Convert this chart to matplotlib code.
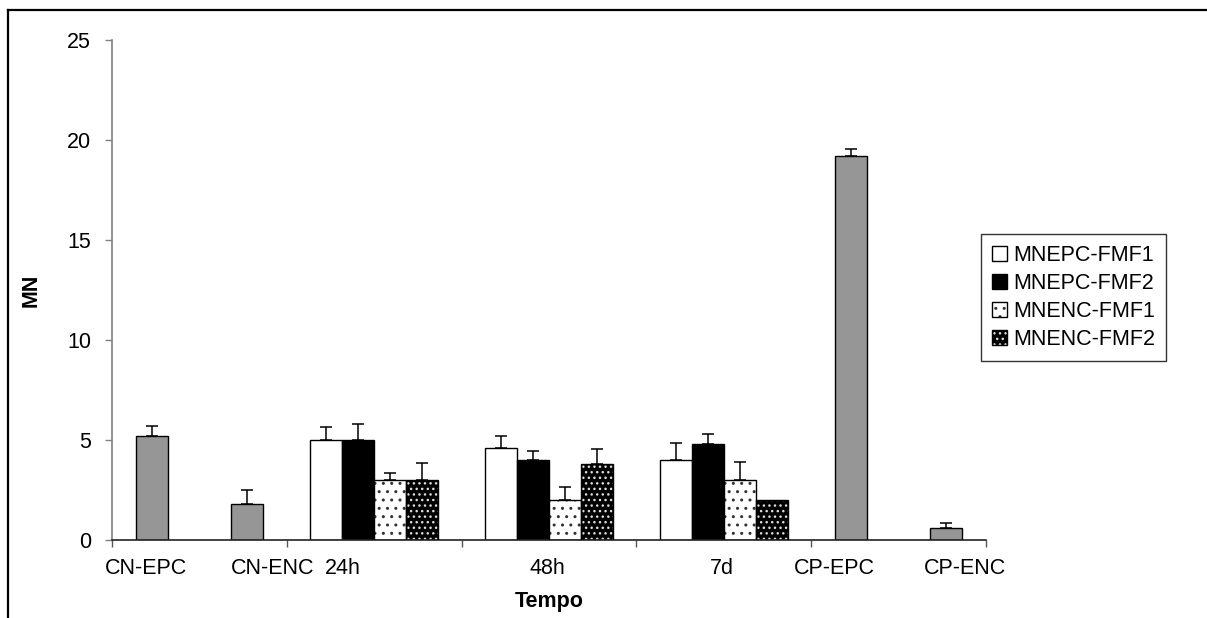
import matplotlib.pyplot as plt
from matplotlib.lines import Line2D
from matplotlib.patches import Patch
from matplotlib.legend_handler import HandlerTuple
import numpy as np

plt.rcParams['font.family'] = ['Liberation Sans', 'DejaVu Sans']
plt.rcParams['hatch.linewidth'] = 1.0

# data
control_labels = ['CN-EPC', 'CN-ENC', 'CP-EPC', 'CP-ENC']
control_values = [5.2, 1.8, 19.2, 0.6]
control_err = [0.5, 0.7, 0.35, 0.25]

times = ['24h', '48h', '7d']
series_names = ['MNEPC-FMF1', 'MNEPC-FMF2', 'MNENC-FMF1', 'MNENC-FMF2']
mnepc_fmf1 = [5.0, 4.6, 4.0]
mnepc_fmf2 = [5.0, 4.0, 4.8]
mnenc_fmf1 = [3.0, 2.0, 3.0]
mnenc_fmf2 = [3.0, 3.8, 2.0]
mnepc_fmf1_err = [0.65, 0.6, 0.85]
mnepc_fmf2_err = [0.8, 0.45, 0.5]
mnenc_fmf1_err = [0.35, 0.65, 0.9]
mnenc_fmf2_err = [0.85, 0.75, 0.0]

tick_labels = ['CN-EPC', 'CN-ENC', '24h', '48h', '7d', 'CP-EPC', 'CP-ENC']

FS = 15.5

fig = plt.figure(figsize=(12.07, 6.18), dpi=100)
ax = fig.add_axes([112/1207, 78/618, 874/1207, 500/618])

w = 32/175
lw = 1.0

def errs(x, y, e):
    x, y, e = np.asarray(x), np.asarray(y), np.asarray(e)
    m = e > 0
    ax.errorbar(x[m], y[m], yerr=[np.zeros(m.sum()), e[m]], fmt='none',
                ecolor='black', elinewidth=1.1, capsize=4, capthick=1.1, zorder=1)

# control bars (gray)
cx = [0.5 - 0.272, 0.5 + 0.272, 4.5 - 0.272, 4.5 + 0.272]
ax.bar(cx, control_values, w, color='#969696', edgecolor='black', linewidth=lw, zorder=2)
errs(cx, control_values, control_err)

# grouped bars
gx = np.arange(len(times)) + 1.5
vals = [mnepc_fmf1, mnepc_fmf2, mnenc_fmf1, mnenc_fmf2]
err = [mnepc_fmf1_err, mnepc_fmf2_err, mnenc_fmf1_err, mnenc_fmf2_err]
handles = []
for i, (v, e) in enumerate(zip(vals, err)):
    x = gx + (i - 1.5) * w
    if i == 0:
        ax.bar(x, v, w, color='white', edgecolor='black', linewidth=lw, zorder=2)
        handles.append(Patch(facecolor='white', edgecolor='black', linewidth=lw))
    elif i == 1:
        ax.bar(x, v, w, color='black', edgecolor='black', linewidth=lw, zorder=2)
        handles.append(Patch(facecolor='black', edgecolor='black', linewidth=lw))
    elif i == 2:
        ax.bar(x, v, w, color='white', edgecolor='#333333', hatch='..', linewidth=0, zorder=2)
        ax.bar(x, v, w, fill=False, edgecolor='black', linewidth=lw, zorder=3)
        handles.append((Patch(facecolor='white', edgecolor='#333333', hatch='..', linewidth=0),
                        Patch(fill=False, edgecolor='black', linewidth=lw)))
    else:
        ax.bar(x, v, w, color='black', edgecolor='#dddddd', hatch='...', linewidth=0, zorder=2)
        ax.bar(x, v, w, fill=False, edgecolor='black', linewidth=lw, zorder=3)
        handles.append((Patch(facecolor='black', edgecolor='#dddddd', hatch='...', linewidth=0),
                        Patch(fill=False, edgecolor='black', linewidth=lw)))
    errs(x, v, e)

ax.set_xlim(0, 5)
ax.set_ylim(0, 25)
ax.set_yticks([0, 5, 10, 15, 20, 25])
ax.tick_params(axis='y', length=5, width=1, color='#808080', pad=10, labelsize=FS)

label_pos = [0.194, 0.92, 1.32, 2.49, 3.49, 4.13, 4.88]
ax.set_xticks(label_pos)
ax.set_xticklabels(tick_labels)
ax.set_xticks(np.arange(0, 6), minor=True)
ax.tick_params(axis='x', which='major', length=0, pad=13, labelsize=FS)
ax.tick_params(axis='x', which='minor', length=5, width=1, color='#555555')

for s in ['top', 'right']:
    ax.spines[s].set_visible(False)
ax.spines['left'].set_color('#808080')
ax.spines['left'].set_linewidth(1.2)
ax.spines['bottom'].set_color('#222222')
ax.spines['bottom'].set_linewidth(1.2)

ax.set_xlabel('Tempo', fontsize=FS, fontweight='bold')
ax.xaxis.set_label_coords(0.5, -0.101)
ax.set_ylabel('MN', fontsize=FS, fontweight='bold')
ax.yaxis.set_label_coords(-0.080, 0.5)

leg = fig.legend(handles, series_names, loc='upper left',
                 bbox_to_anchor=(981/1207, 1 - 234/618), fontsize=FS,
                 handler_map={tuple: HandlerTuple(ndivide=1, pad=0)},
                 handlelength=0.7, handleheight=0.7, handletextpad=0.3,
                 labelspacing=0.33, borderpad=0.5, borderaxespad=0,
                 fancybox=False, frameon=True)
leg.get_frame().set_edgecolor('black')
leg.get_frame().set_linewidth(1.0)

# outer frame (left and top only)
fig.add_artist(Line2D([8/1207, 8/1207], [0, 1 - 10/618], color='black', lw=1.6))
fig.add_artist(Line2D([8/1207, 1], [1 - 10/618, 1 - 10/618], color='black', lw=1.6))

fig.savefig('out.png', dpi=100)
